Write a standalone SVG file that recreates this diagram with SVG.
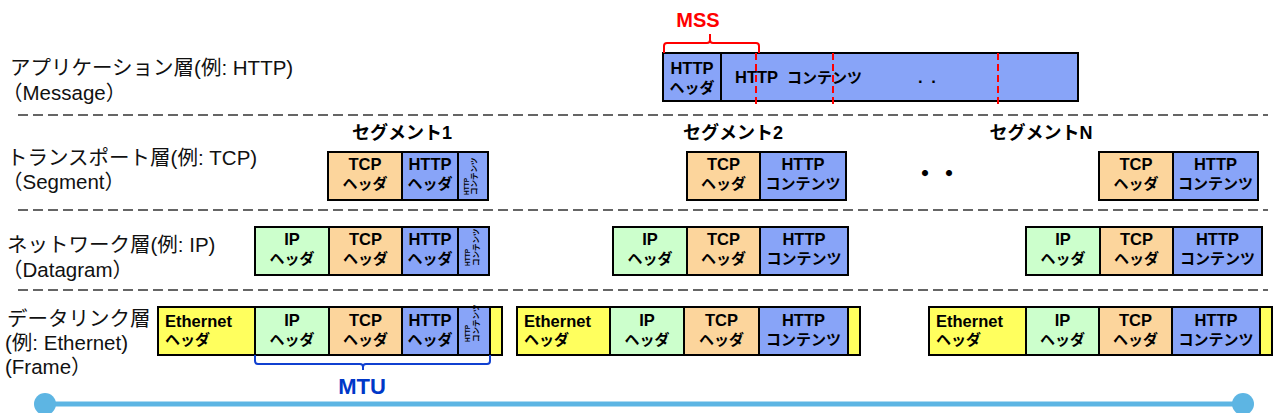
<svg xmlns="http://www.w3.org/2000/svg" width="1281" height="413" viewBox="0 0 1281 413">
<style>
.lbl{font-family:"Liberation Sans","Noto Sans CJK JP",sans-serif;font-size:20.5px;fill:#111}
.t{font-family:"Liberation Sans","Noto Sans CJK JP",sans-serif;font-size:16.5px;font-weight:bold;fill:#000;text-anchor:middle}
.j{font-family:"Liberation Sans","Noto Sans CJK JP",sans-serif;font-size:15px;font-weight:bold;fill:#000;text-anchor:middle}
.tl{font-family:"Liberation Sans","Noto Sans CJK JP",sans-serif;font-size:16.5px;font-weight:bold;fill:#000}
.jl{font-family:"Liberation Sans","Noto Sans CJK JP",sans-serif;font-size:15px;font-weight:bold;fill:#000}
.sm{font-family:"Liberation Sans","Noto Sans CJK JP",sans-serif;font-weight:bold;fill:#000}
.seg{font-family:"Liberation Sans","Noto Sans CJK JP",sans-serif;font-size:18px;font-weight:bold;fill:#000;text-anchor:middle}
.b{stroke:#000;stroke-width:2}
.http{fill:#88A4F8}
.tcp{fill:#FCD59C}
.ip{fill:#CCFFCC}
.eth{fill:#FFFF5E}
.sep{stroke:#333;stroke-width:1.6;stroke-dasharray:10 5;fill:none}
.red{stroke:#FF0000;stroke-width:2;stroke-dasharray:7 4;fill:none}
</style>

<g id="separators">
<line class="sep" x1="18" y1="115" x2="1268" y2="115"/>
<line class="sep" x1="18" y1="210" x2="1268" y2="210"/>
<line class="sep" x1="18" y1="290" x2="1268" y2="290"/>
</g>

<g id="labels">
<text class="lbl" x="10" y="75">アプリケーション層(例: HTTP)</text>
<text class="lbl" x="2" y="100">（Message）</text>
<text class="lbl" x="7" y="165">トランスポート層(例: TCP)</text>
<text class="lbl" x="2" y="189">（Segment）</text>
<text class="lbl" x="7" y="252">ネットワーク層(例: IP)</text>
<text class="lbl" x="2" y="277">（Datagram）</text>
<text class="lbl" x="7" y="326">データリンク層</text>
<text class="lbl" x="5" y="350">(例: Ethernet)</text>
<text class="lbl" x="5" y="374">(Frame）</text>
</g>

<g id="message">
<rect class="b http" x="663" y="53" width="415" height="48"/>
<line class="b" x1="721" y1="53" x2="721" y2="101"/>
<text class="t" x="692" y="74">HTTP</text>
<text class="j" x="692" y="93">ヘッダ</text>
<text class="tl" x="735" y="83" xml:space="preserve">HTTP  <tspan font-size="15">コンテンツ</tspan></text>
<text class="tl" x="918" y="83" word-spacing="4">. .</text>
<line class="red" x1="756" y1="53" x2="756" y2="104"/>
<line class="red" x1="833" y1="53" x2="833" y2="104"/>
<line class="red" x1="998" y1="53" x2="998" y2="104"/>
</g>

<g id="mss">
<path d="M664 53 V46 Q664 43 667 43 H707 Q710 43 710 40 V34 M710 40 Q710 43 713 43 H756 Q759 43 759 46 V53" fill="none" stroke="#FF0000" stroke-width="2"/>
<text x="698" y="27" font-family="Liberation Sans, sans-serif" font-size="20" font-weight="bold" fill="#FF0000" text-anchor="middle">MSS</text>
</g>

<g id="segment-labels">
<text class="seg" x="402" y="139">セグメント1</text>
<text class="seg" x="733" y="139">セグメント2</text>
<text class="seg" x="1041" y="139">セグメントN</text>
<text x="913" y="182" font-family="Noto Sans CJK JP, sans-serif" font-size="24" font-weight="bold" fill="#000">・・</text>
</g>

<g id="seg1">
<rect class="b tcp" x="328" y="152" width="74" height="48"/>
<rect class="b http" x="402" y="152" width="56" height="48"/>
<rect class="b http" x="458" y="152" width="30" height="48"/>
<text class="t" x="365" y="170">TCP</text><text class="j" x="365" y="189">ヘッダ</text>
<text class="t" x="430" y="170">HTTP</text><text class="j" x="430" y="189">ヘッダ</text>
<text class="sm" font-size="6.5" transform="translate(469,195) rotate(-90)">HTTP</text>
<text class="sm" font-size="7.5" transform="translate(477,195) rotate(-90)">コンテンツ</text>
</g>

<g id="seg2">
<rect class="b tcp" x="687" y="152" width="73" height="48"/>
<rect class="b http" x="760" y="152" width="86" height="48"/>
<text class="t" x="723.5" y="170">TCP</text><text class="j" x="723.5" y="189">ヘッダ</text>
<text class="t" x="803" y="170">HTTP</text><text class="j" x="803" y="189">コンテンツ</text>
</g>

<g id="segN">
<rect class="b tcp" x="1099" y="152" width="74" height="48"/>
<rect class="b http" x="1173" y="152" width="85" height="48"/>
<text class="t" x="1136" y="170">TCP</text><text class="j" x="1136" y="189">ヘッダ</text>
<text class="t" x="1215.5" y="170">HTTP</text><text class="j" x="1215.5" y="189">コンテンツ</text>
</g>

<g id="dgram1">
<rect class="b ip" x="255" y="227" width="74" height="48"/>
<rect class="b tcp" x="329" y="227" width="73" height="48"/>
<rect class="b http" x="402" y="227" width="56" height="48"/>
<rect class="b http" x="458" y="227" width="31" height="48"/>
<text class="t" x="292" y="245">IP</text><text class="j" x="292" y="264">ヘッダ</text>
<text class="t" x="365.5" y="245">TCP</text><text class="j" x="365.5" y="264">ヘッダ</text>
<text class="t" x="430" y="245">HTTP</text><text class="j" x="430" y="264">ヘッダ</text>
<text class="sm" font-size="6.5" transform="translate(470,266) rotate(-90)">HTTP</text>
<text class="sm" font-size="7.5" transform="translate(479,266) rotate(-90)">コンテンツ</text>
</g>

<g id="dgram2">
<rect class="b ip" x="613" y="227" width="74" height="48"/>
<rect class="b tcp" x="687" y="227" width="73" height="48"/>
<rect class="b http" x="760" y="227" width="88" height="48"/>
<text class="t" x="650" y="245">IP</text><text class="j" x="650" y="264">ヘッダ</text>
<text class="t" x="723.5" y="245">TCP</text><text class="j" x="723.5" y="264">ヘッダ</text>
<text class="t" x="804" y="245">HTTP</text><text class="j" x="804" y="264">コンテンツ</text>
</g>

<g id="dgramN">
<rect class="b ip" x="1026" y="227" width="74" height="48"/>
<rect class="b tcp" x="1100" y="227" width="73" height="48"/>
<rect class="b http" x="1173" y="227" width="89" height="48"/>
<text class="t" x="1063" y="245">IP</text><text class="j" x="1063" y="264">ヘッダ</text>
<text class="t" x="1136.5" y="245">TCP</text><text class="j" x="1136.5" y="264">ヘッダ</text>
<text class="t" x="1217.5" y="245">HTTP</text><text class="j" x="1217.5" y="264">コンテンツ</text>
</g>

<g id="frame1">
<rect class="b eth" x="158" y="307" width="97" height="48"/>
<rect class="b ip" x="255" y="307" width="74" height="48"/>
<rect class="b tcp" x="329" y="307" width="73" height="48"/>
<rect class="b http" x="402" y="307" width="56" height="48"/>
<rect class="b http" x="458" y="307" width="32" height="48"/>
<rect class="b eth" x="490" y="307" width="12" height="48"/>
<text class="tl" x="165" y="327">Ethernet</text><text class="jl" x="165" y="345">ヘッダ</text>
<text class="t" x="292" y="326">IP</text><text class="j" x="292" y="345">ヘッダ</text>
<text class="t" x="365.5" y="326">TCP</text><text class="j" x="365.5" y="345">ヘッダ</text>
<text class="t" x="430" y="326">HTTP</text><text class="j" x="430" y="345">ヘッダ</text>
<text class="sm" font-size="6.5" transform="translate(470,342) rotate(-90)">HTTP</text>
<text class="sm" font-size="7.5" transform="translate(479,342) rotate(-90)">コンテンツ</text>
</g>

<g id="frame2">
<rect class="b eth" x="517" y="307" width="93" height="48"/>
<rect class="b ip" x="610" y="307" width="74" height="48"/>
<rect class="b tcp" x="684" y="307" width="75" height="48"/>
<rect class="b http" x="759" y="307" width="89" height="48"/>
<rect class="b eth" x="848" y="307" width="12" height="48"/>
<text class="tl" x="524" y="327">Ethernet</text><text class="jl" x="524" y="345">ヘッダ</text>
<text class="t" x="647" y="326">IP</text><text class="j" x="647" y="345">ヘッダ</text>
<text class="t" x="721.5" y="326">TCP</text><text class="j" x="721.5" y="345">ヘッダ</text>
<text class="t" x="803.5" y="326">HTTP</text><text class="j" x="803.5" y="345">コンテンツ</text>
</g>

<g id="frameN">
<rect class="b eth" x="929" y="307" width="97" height="48"/>
<rect class="b ip" x="1026" y="307" width="73" height="48"/>
<rect class="b tcp" x="1099" y="307" width="73" height="48"/>
<rect class="b http" x="1172" y="307" width="88" height="48"/>
<rect class="b eth" x="1260" y="307" width="12" height="48"/>
<text class="tl" x="936" y="327">Ethernet</text><text class="jl" x="936" y="345">ヘッダ</text>
<text class="t" x="1062.5" y="326">IP</text><text class="j" x="1062.5" y="345">ヘッダ</text>
<text class="t" x="1135.5" y="326">TCP</text><text class="j" x="1135.5" y="345">ヘッダ</text>
<text class="t" x="1216" y="326">HTTP</text><text class="j" x="1216" y="345">コンテンツ</text>
</g>

<g id="mtu">
<path d="M255 355 V361 Q255 364 258 364 H360 Q363 364 363 367 V370 M363 367 Q363 364 366 364 H487 Q490 364 490 361 V355" fill="none" stroke="#1040D0" stroke-width="2"/>
<text x="362" y="394" font-family="Liberation Sans, sans-serif" font-size="22" font-weight="bold" fill="#0038C8" text-anchor="middle">MTU</text>
</g>

<g id="connectors">
<line x1="45" y1="404" x2="1243" y2="404" stroke="#5DB5E3" stroke-width="5"/>
<circle cx="45" cy="404" r="11" fill="#5DB5E3"/>
<circle cx="1243" cy="404" r="11" fill="#5DB5E3"/>
</g>
</svg>
